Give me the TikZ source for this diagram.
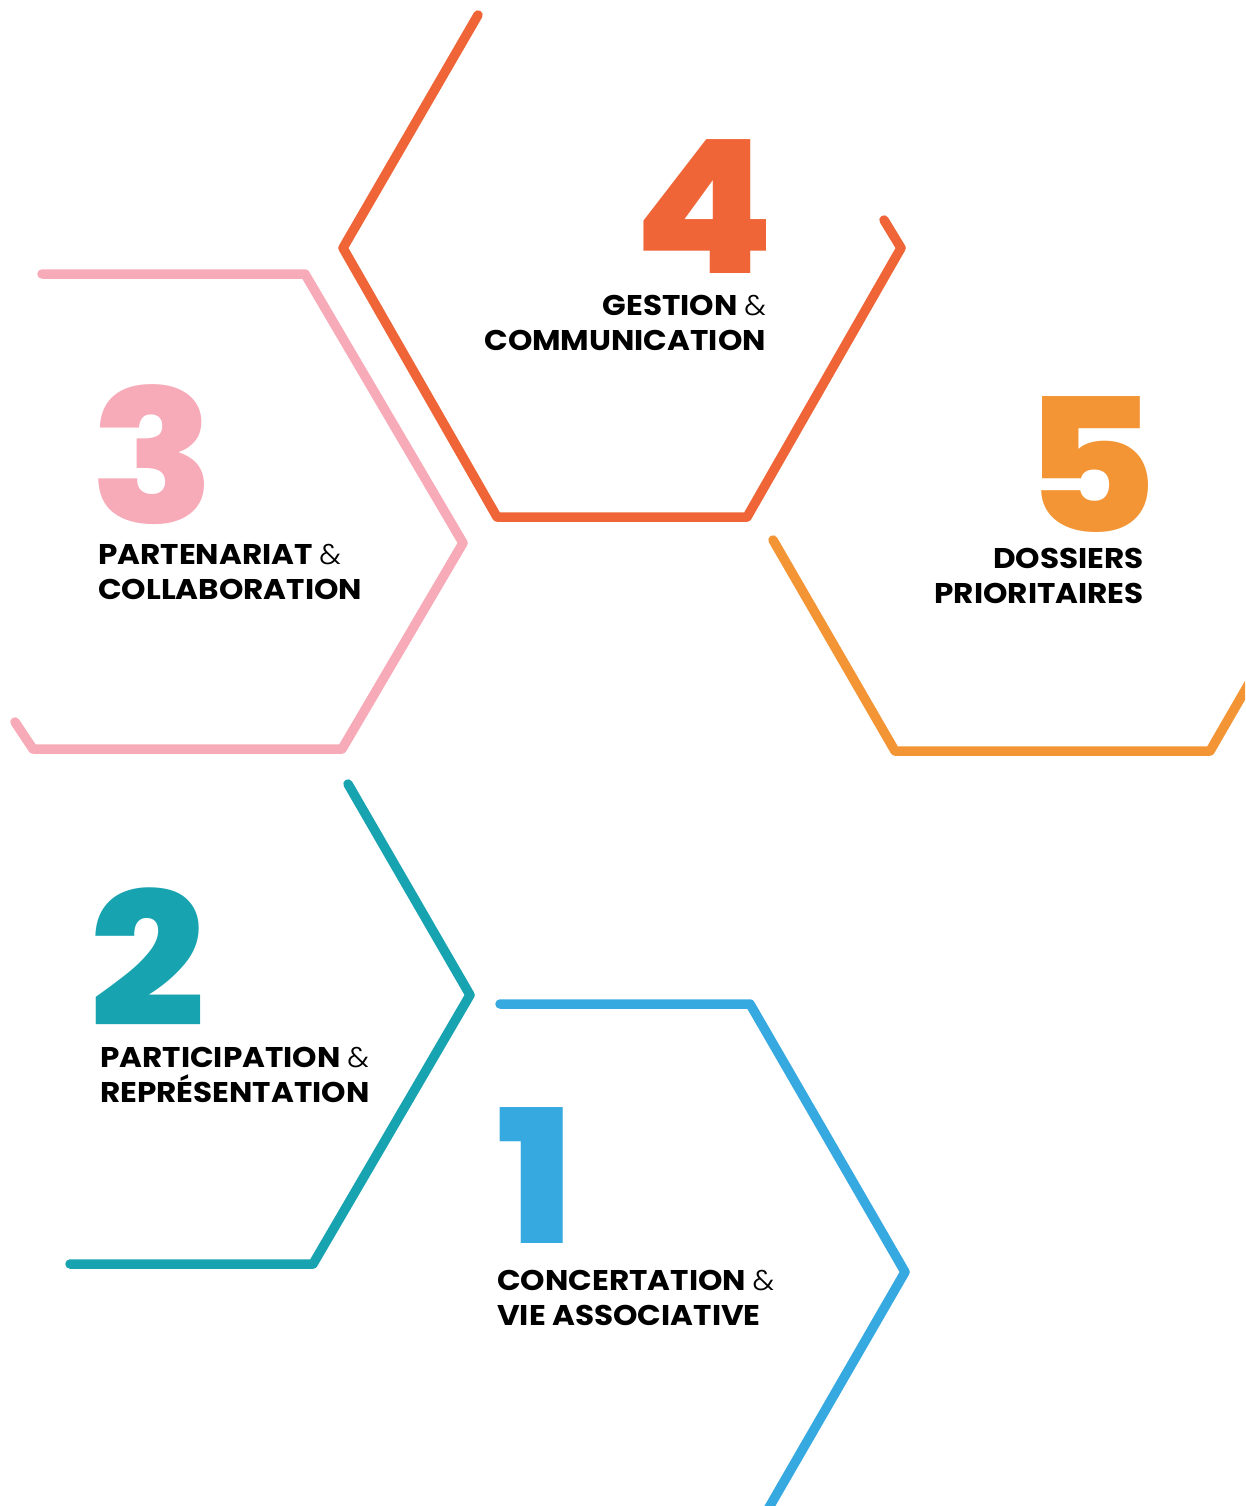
\documentclass[tikz,border=0pt]{standalone}
\usepackage{fontspec}
\setmainfont{Poppins}
\newfontfamily\numfont{Poppins ExtraBold}[FakeStretch=1.1]
\newfontfamily\lblfont{Poppins Bold}[FakeStretch=1.09]
\newfontfamily\ampfont{Poppins Light}[FakeStretch=1.05]
\usepackage{tikz}
\usetikzlibrary{calc}

\definecolor{cone}{HTML}{36A9E0}
\definecolor{ctwo}{HTML}{18A3B1}
\definecolor{cthree}{HTML}{F7AAB7}
\definecolor{cfour}{HTML}{EF6537}
\definecolor{cfive}{HTML}{F39534}

\newcommand{\amp}{{\ampfont\&}}

\begin{document}
\begin{tikzpicture}[x=1pt, y=-1pt,
    hexline/.style={line width=9.5pt, line cap=round, line join=round},
    num/.style={inner sep=0pt, text height=134pt, text depth=0pt, font=\numfont\fontsize{186}{186}\selectfont},
    lbl/.style={inner sep=0pt, text height=20pt, text depth=0pt, font=\lblfont\fontsize{28.5}{28.5}\selectfont}]
    \useasboundingbox (0,0) rectangle (1245,1506);
    \clip (0,0) rectangle (1245,1506);
    % hexagon sides
    \draw[hexline, cfour] (478,15) -- (343,248) -- (497,517) -- (747,517) -- (901,248) -- (884,220);
    \draw[hexline, cthree] (42,274) -- (305,274) -- (463,543) -- (342,749) -- (33,749) -- (15,722);
    \draw[hexline, cfive] (773,540) -- (895,751) -- (1210,751) -- (1262,661);
    \draw[hexline, ctwo] (348,784) -- (470,995) -- (313,1264) -- (70,1264);
    \draw[hexline, cone] (500,1004) -- (750,1004) -- (905,1272) -- (756,1530);
    % numbers
    \node[num, text=cfour, anchor=base east] (n4) at (775,273) {4};
    \node[num, text=cthree, anchor=base west] (n3) at (90,523) {3};
    \node[num, text=cfive, anchor=base east] (n5) at (1158,532) {5};
    \node[num, text=ctwo, anchor=base west] (n2) at (89,1026) {2};
    \node[num, text=cone, anchor=base west] (n1) at (496,1243) {1};
    % labels
    \node[lbl, anchor=base east] (l4a) at (766,315) {GESTION \amp};
    \node[lbl, anchor=base east] (l4b) at (766,350) {COMMUNICATION};
    \node[lbl, anchor=base west] (l3a) at (98,564) {PARTENARIAT \amp};
    \node[lbl, anchor=base west] (l3b) at (98,599) {COLLABORATION};
    \node[lbl, anchor=base east] (l5a) at (1144,568) {DOSSIERS};
    \node[lbl, anchor=base east] (l5b) at (1144,603) {PRIORITAIRES};
    \node[lbl, anchor=base west] (l2a) at (100,1067) {PARTICIPATION \amp};
    \node[lbl, anchor=base west] (l2b) at (100,1102) {REPRÉSENTATION};
    \node[lbl, anchor=base west] (l1a) at (497,1290) {CONCERTATION \amp};
    \node[lbl, anchor=base west] (l1b) at (497,1325) {VIE ASSOCIATIVE};
\end{tikzpicture}
\end{document}
